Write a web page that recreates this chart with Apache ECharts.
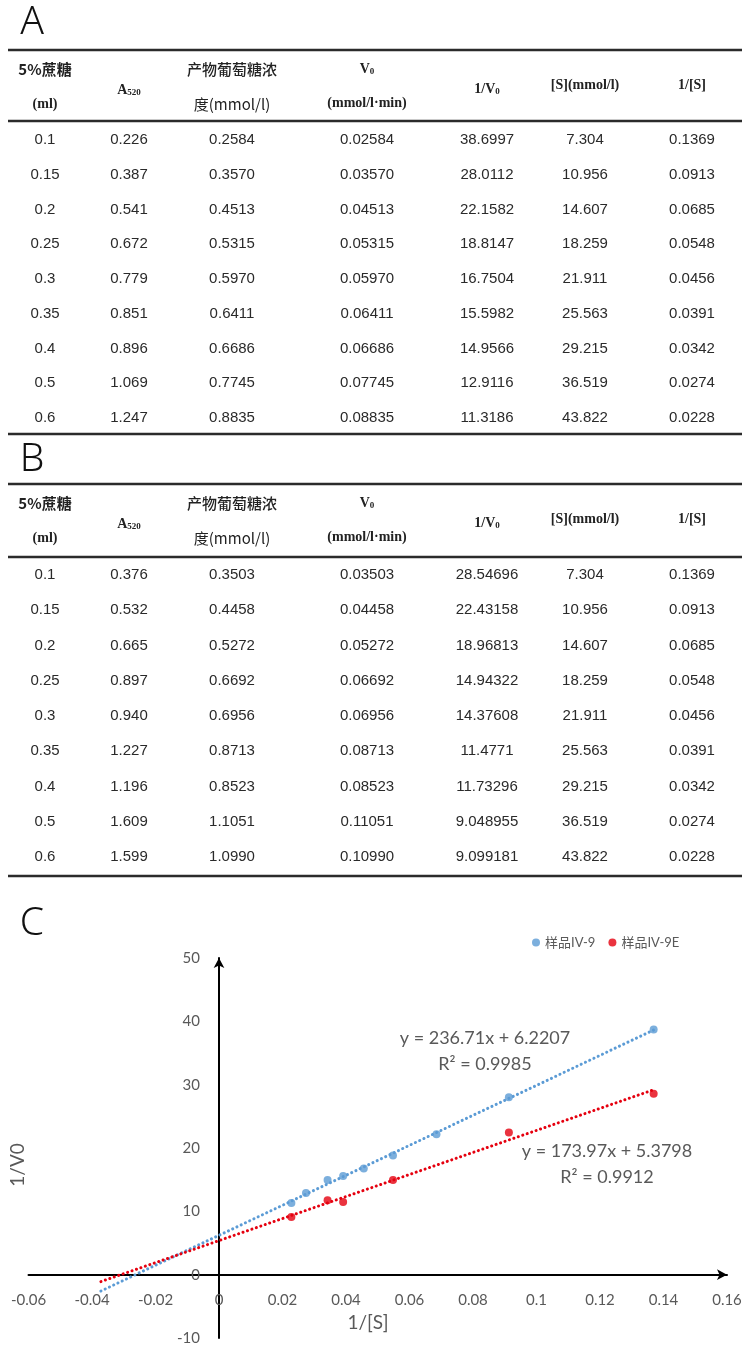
<!DOCTYPE html>
<html>
<head>
<meta charset="utf-8">
<script src="https://cdn.jsdelivr.net/npm/echarts@6/dist/echarts.min.js"></script>
<style>
  html, body { margin: 0; padding: 0; background: #fff; }
  #main { width: 742px; height: 1347px; }
</style>
</head>
<body>
<div id="main"></div>
<script>
// ---- Columns shared by both tables ----
const sucroseMl    = ['0.1', '0.15', '0.2', '0.25', '0.3', '0.35', '0.4', '0.5', '0.6'];
const substrateMM  = ['7.304', '10.956', '14.607', '18.259', '21.911', '25.563', '29.215', '36.519', '43.822'];
const invSubstrate = ['0.1369', '0.0913', '0.0685', '0.0548', '0.0456', '0.0391', '0.0342', '0.0274', '0.0228'];

// ---- Sample IV-9 (table A) ----
const a520A    = ['0.226', '0.387', '0.541', '0.672', '0.779', '0.851', '0.896', '1.069', '1.247'];
const glucoseA = ['0.2584', '0.3570', '0.4513', '0.5315', '0.5970', '0.6411', '0.6686', '0.7745', '0.8835'];
const v0A      = ['0.02584', '0.03570', '0.04513', '0.05315', '0.05970', '0.06411', '0.06686', '0.07745', '0.08835'];
const invV0A   = ['38.6997', '28.0112', '22.1582', '18.8147', '16.7504', '15.5982', '14.9566', '12.9116', '11.3186'];

// ---- Sample IV-9E (table B) ----
const a520B    = ['0.376', '0.532', '0.665', '0.897', '0.940', '1.227', '1.196', '1.609', '1.599'];
const glucoseB = ['0.3503', '0.4458', '0.5272', '0.6692', '0.6956', '0.8713', '0.8523', '1.1051', '1.0990'];
const v0B      = ['0.03503', '0.04458', '0.05272', '0.06692', '0.06956', '0.08713', '0.08523', '0.11051', '0.10990'];
const invV0B   = ['28.54696', '22.43158', '18.96813', '14.94322', '14.37608', '11.4771', '11.73296', '9.048955', '9.099181'];

// ---- Lineweaver-Burk plot ----
const seriesNames  = ['样品IV-9', '样品IV-9E'];
const plottedA     = [1, 1, 1, 1, 1, 1, 1, 1, 1];   // rows of each table used in the plot
const plottedB     = [1, 1, 0, 1, 0, 1, 1, 0, 1];
const fitSlope     = [236.71, 173.97];
const fitIntercept = [6.2207, 5.3798];
const fitR2        = ['0.9985', '0.9912'];
const fitXRange    = [-0.0372, 0.1369];   // trendline extent on 1/[S]
const xAxisRange   = [-0.06, 0.16, 0.02]; // min, max, interval
const yAxisRange   = [-10, 50, 10];

// ---- layout ----
const COLORS = ['#5B9BD5', '#E5000F'];
const colX = [45, 129, 232, 367, 487, 585, 692];
const SANS = '"Liberation Sans", Arial, "Noto Sans CJK SC", sans-serif';
const SERIF = '"Liberation Serif", "Times New Roman", serif';
const CJK = '"Noto Sans CJK SC", "Liberation Sans", sans-serif';
const CHART_FONT = 'Lato, "Noto Sans CJK SC", sans-serif';
const PANEL_FONT = '300 39px "Noto Sans", sans-serif';
const PLOT = { left: 28.5, right: 727, top: 958, bottom: 1338 };

const graphics = [];

function text(x, y, str, font, fill) {
  graphics.push({
    type: 'text', x: x, y: y, silent: true,
    style: { text: str, font: font, fill: fill || '#222', align: 'center', verticalAlign: 'middle' }
  });
}
function richText(x, y, str, rich) {
  graphics.push({
    type: 'text', x: x, y: y, silent: true,
    style: { text: str, rich: rich, fill: '#222', align: 'center', verticalAlign: 'middle' }
  });
}
function rule(y) {
  graphics.push({
    type: 'line', silent: true,
    shape: { x1: 8, y1: y, x2: 742, y2: y },
    style: { stroke: '#2b2b2b', lineWidth: 2.5 }
  });
}
const subRich = {
  m: { font: 'bold 14px ' + SERIF, fill: '#222', lineHeight: 18, verticalAlign: 'bottom' },
  s: { font: 'bold 9px ' + SERIF, fill: '#222', lineHeight: 18, verticalAlign: 'bottom' }
};

function drawTable(panel, labelY, top, headerBottom, bottom, firstRow, rowStep, cols) {
  text(32, labelY, panel, PANEL_FONT, '#111');
  rule(top); rule(headerBottom); rule(bottom);
  // header
  text(colX[0], top + 19, '5%蔗糖', 'bold 15px ' + CJK);
  text(colX[0], top + 54, '(ml)', 'bold 14px ' + SERIF);
  richText(colX[1], top + 38, '{m|A}{s|520}', subRich);
  text(colX[2], top + 19, '产物葡萄糖浓', '500 15px ' + CJK);
  text(colX[2], top + 54, '度(mmol/l)', '15px ' + CJK);
  richText(colX[3], top + 17, '{m|V}{s|0}', subRich);
  text(colX[3], top + 53, '(mmol/l·min)', 'bold 14px ' + SERIF);
  richText(colX[4], top + 37, '{m|1/V}{s|0}', subRich);
  text(colX[5], top + 35, '[S](mmol/l)', 'bold 14px ' + SERIF);
  text(colX[6], top + 35, '1/[S]', 'bold 14px ' + SERIF);
  // body
  for (let r = 0; r < cols[0].length; r++) {
    const y = firstRow + r * rowStep;
    for (let c = 0; c < cols.length; c++) {
      text(colX[c], y, cols[c][r], '15px ' + SANS, '#2a2a2a');
    }
  }
}

drawTable('A', 23, 50, 121, 434, 140, 34.75,
  [sucroseMl, a520A, glucoseA, v0A, invV0A, substrateMM, invSubstrate]);
drawTable('B', 460, 484, 557, 876, 575, 35.25,
  [sucroseMl, a520B, glucoseB, v0B, invV0B, substrateMM, invSubstrate]);

// panel C label and axis titles
text(32, 924, 'C', PANEL_FONT, '#111');
graphics.push({ type: 'text', x: 18, y: 1165, rotation: Math.PI / 2, silent: true,
  style: { text: '1/V0', font: '19px ' + CHART_FONT, fill: '#595959', align: 'center', verticalAlign: 'middle' } });
text(368, 1323, '1/[S]', '19px ' + CHART_FONT, '#595959');

// trendline equation labels
const eqPos = [[485, 1038], [607, 1151]];
for (let i = 0; i < 2; i++) {
  const sign = fitIntercept[i] >= 0 ? ' + ' : ' - ';
  text(eqPos[i][0], eqPos[i][1],
    'y = ' + fitSlope[i].toFixed(2) + 'x' + sign + Math.abs(fitIntercept[i]).toFixed(4),
    '18px ' + CHART_FONT, '#595959');
  text(eqPos[i][0], eqPos[i][1] + 26, 'R² = ' + fitR2[i], '18px ' + CHART_FONT, '#595959');
}

// series
function toPoints(invV0, plotted) {
  const pts = [];
  invSubstrate.forEach((s, i) => { if (plotted[i]) pts.push([Number(s), Number(invV0[i])]); });
  return pts;
}
const pointSets = [toPoints(invV0A, plottedA), toPoints(invV0B, plottedB)];
const fitLine = i => fitXRange.map(x => [x, fitSlope[i] * x + fitIntercept[i]]);

const series = [];
pointSets.forEach((pts, i) => {
  series.push({
    type: 'line', data: fitLine(i), symbol: 'none', silent: true, z: 2,
    lineStyle: { color: COLORS[i], width: 3, type: [0.1, 4.6], cap: 'round' }
  });
});
pointSets.forEach((pts, i) => {
  series.push({
    name: seriesNames[i], type: 'scatter', data: pts, symbolSize: 8, z: 3,
    itemStyle: { color: COLORS[i] }
  });
});

// Axes cross at the origin; shift each axis (with its labels) from the grid edge to zero.
const plotW = PLOT.right - PLOT.left, plotH = PLOT.bottom - PLOT.top;
const yAxisShift = plotW * (0 - xAxisRange[0]) / (xAxisRange[1] - xAxisRange[0]);
const xAxisShift = plotH * (0 - yAxisRange[0]) / (yAxisRange[1] - yAxisRange[0]);

const axisCommon = {
  type: 'value',
  axisLine: { show: true, onZero: false, symbol: ['none', 'arrow'], symbolSize: [8, 10],
    lineStyle: { color: '#000', width: 2 } },
  axisTick: { show: false },
  splitLine: { show: false },
  axisLabel: { color: '#595959', fontSize: 15, fontFamily: CHART_FONT }
};

const chart = echarts.init(document.getElementById('main'), null, { renderer: 'canvas' });
chart.setOption({
  animation: false,
  backgroundColor: '#fff',
  grid: { left: PLOT.left, right: 742 - PLOT.right, top: PLOT.top, bottom: 1347 - PLOT.bottom,
    containLabel: false, outerBoundsMode: 'none' },
  xAxis: Object.assign({}, axisCommon, {
    position: 'bottom', offset: -xAxisShift,
    min: xAxisRange[0], max: xAxisRange[1], interval: xAxisRange[2],
    axisLabel: Object.assign({}, axisCommon.axisLabel, { margin: 18 })
  }),
  yAxis: Object.assign({}, axisCommon, {
    position: 'left', offset: -yAxisShift,
    min: yAxisRange[0], max: yAxisRange[1], interval: yAxisRange[2],
    axisLabel: Object.assign({}, axisCommon.axisLabel, { margin: 19 })
  }),
  legend: {
    data: seriesNames, left: 527, top: 931, icon: 'circle', itemWidth: 8, itemHeight: 8, itemGap: 13,
    textStyle: { color: '#595959', fontSize: 13, fontFamily: CHART_FONT }
  },
  series: series,
  graphic: graphics
});
</script>
</body>
</html>
